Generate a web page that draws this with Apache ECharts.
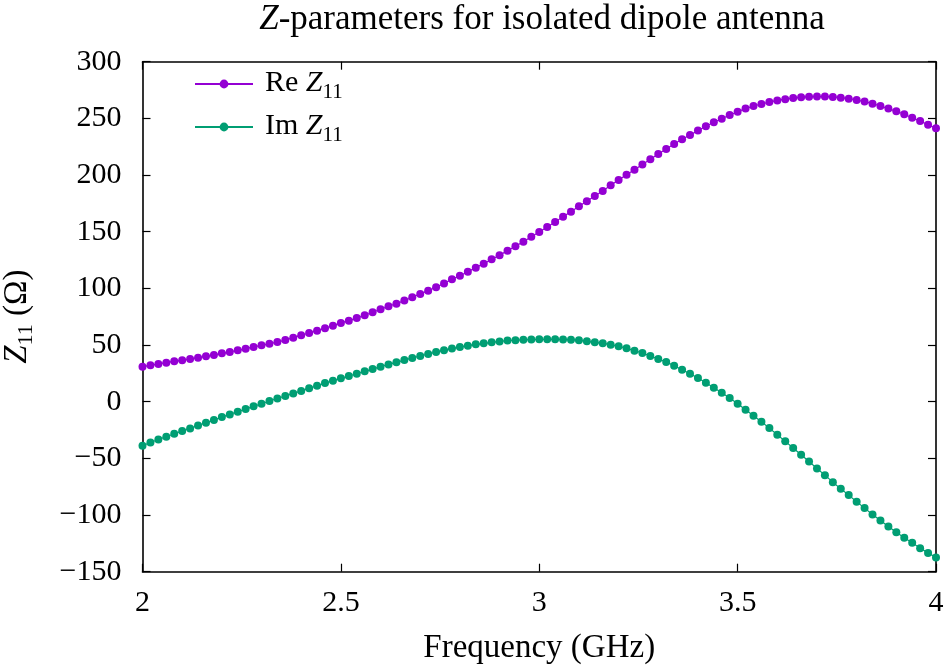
<!DOCTYPE html>
<html>
<head>
<meta charset="utf-8">
<script src="https://cdn.jsdelivr.net/npm/echarts@6/dist/echarts.min.js"></script>
<style>
html,body{margin:0;padding:0;background:#fff;}
#chart{width:945px;height:665px;}
</style>
</head>
<body>
<div id="chart"></div>
<script>
var frequency = [2.00,2.02,2.04,2.06,2.08,2.10,2.12,2.14,2.16,2.18,
2.20,2.22,2.24,2.26,2.28,2.30,2.32,2.34,2.36,2.38,
2.40,2.42,2.44,2.46,2.48,2.50,2.52,2.54,2.56,2.58,
2.60,2.62,2.64,2.66,2.68,2.70,2.72,2.74,2.76,2.78,
2.80,2.82,2.84,2.86,2.88,2.90,2.92,2.94,2.96,2.98,
3.00,3.02,3.04,3.06,3.08,3.10,3.12,3.14,3.16,3.18,
3.20,3.22,3.24,3.26,3.28,3.30,3.32,3.34,3.36,3.38,
3.40,3.42,3.44,3.46,3.48,3.50,3.52,3.54,3.56,3.58,
3.60,3.62,3.64,3.66,3.68,3.70,3.72,3.74,3.76,3.78,
3.80,3.82,3.84,3.86,3.88,3.90,3.92,3.94,3.96,3.98,
4.00];

var reZ11 = [30.9,32.1,33.3,34.4,35.6,36.5,37.7,38.8,40.0,41.2,
42.7,43.9,45.3,46.8,48.3,49.7,51.2,52.6,54.4,56.5,
58.6,60.6,62.7,64.8,67.1,69.5,71.5,73.9,76.2,78.9,
81.5,84.2,86.5,89.2,92.1,95.1,98.0,101.0,104.4,108.0,
111.2,114.7,118.3,121.8,125.6,129.2,133.3,137.1,141.2,145.6,
149.7,154.1,158.6,163.3,167.7,172.4,176.8,181.5,185.9,190.9,
195.6,200.3,204.7,209.4,213.9,218.6,223.0,227.4,231.5,235.3,
239.2,243.0,246.5,249.7,253.0,255.9,258.6,260.9,262.7,264.4,
265.8,266.9,267.9,268.6,269.1,269.3,269.2,268.9,268.3,267.4,
266.2,264.8,263.0,260.9,258.6,256.2,253.6,250.6,247.7,244.4,
241.2];

var imZ11 = [-38.8,-36.0,-33.3,-30.9,-28.3,-25.9,-23.6,-20.9,-18.6,-16.2,
-13.6,-11.2,-8.8,-6.5,-4.1,-1.8,0.6,2.9,5.0,7.3,
9.4,11.8,14.1,16.4,18.5,20.6,22.7,24.7,26.8,28.8,
30.9,32.9,34.7,36.7,38.6,40.3,42.1,43.8,45.5,46.9,
48.3,49.4,50.6,51.5,52.4,53.2,53.9,54.3,54.6,54.8,
55.0,55.0,55.0,54.9,54.7,54.2,53.3,52.4,51.5,50.3,
48.9,47.1,45.0,43.0,40.3,37.7,35.0,31.8,28.2,24.7,
20.9,16.8,12.4,7.9,3.2,-1.8,-7.1,-12.4,-17.7,-23.3,
-29.2,-35.0,-40.9,-46.8,-52.7,-58.9,-64.8,-71.0,-76.9,-82.4,
-88.3,-93.9,-99.5,-104.8,-110.1,-115.1,-120.1,-124.5,-129.2,-133.4,
-137.5];

var xTicks = [2, 2.5, 3, 3.5, 4];
var yTicks = [-150, -100, -50, 0, 50, 100, 150, 200, 250, 300];

var FONT = '"Liberation Serif", "DejaVu Serif", serif';
var FS = 30;
var FS_BIG = 33;

function pairs(xs, ys) {
  var out = [];
  for (var i = 0; i < xs.length; i++) out.push([xs[i], ys[i]]);
  return out;
}

var chart = echarts.init(document.getElementById('chart'), null, {renderer: 'canvas'});

var tickStyle = {show: true, inside: true, length: 8, lineStyle: {color: '#000', width: 1.2}};
var lineStyle = {show: true, onZero: false, lineStyle: {color: '#000', width: 1.6}};

var option = {
  animation: false,
  backgroundColor: '#fff',
  title: {
    text: '{i|Z}{n|-parameters for isolated dipole antenna}',
    left: 537,
    textAlign: 'center',
    top: -3,
    textStyle: {
      fontWeight: 'normal',
      rich: {
        i: {fontFamily: FONT, fontSize: 35, fontStyle: 'italic', fontWeight: 'normal', color: '#000'},
        n: {fontFamily: FONT, fontSize: 35, fontWeight: 'normal', color: '#000'}
      }
    }
  },
  grid: {left: 142.5, right: 9, top: 61.7, bottom: 93.3, containLabel: false, outerBoundsMode: 'none'},
  legend: {
    left: 189,
    top: 63,
    orient: 'vertical',
    itemWidth: 58,
    itemHeight: 11,
    itemGap: 8,
    data: ['Re', 'Im'],
    formatter: function (name) {
      return '{a|' + name + ' }{z|Z}{s|11}';
    },
    textStyle: {
      rich: {
        a: {fontFamily: FONT, fontSize: FS, color: '#000', verticalAlign: 'top', lineHeight: 32, padding: [0, 0, 0, 7]},
        z: {fontFamily: FONT, fontSize: FS, fontStyle: 'italic', color: '#000', verticalAlign: 'top', lineHeight: 32},
        s: {fontFamily: FONT, fontSize: 21, color: '#000', verticalAlign: 'top', lineHeight: 22, padding: [14, 0, 0, 0]}
      }
    }
  },
  xAxis: [{
    type: 'value', min: 2, max: 4, interval: 0.5, position: 'bottom',
    axisLine: lineStyle, axisTick: tickStyle, splitLine: {show: false},
    axisLabel: {fontFamily: FONT, fontSize: FS, color: '#000', margin: 16,
      formatter: function (v) { return String(v); }},
    name: 'Frequency (GHz)', nameLocation: 'middle', nameGap: 60,
    nameTextStyle: {fontFamily: FONT, fontSize: FS_BIG, color: '#000'}
  }, {
    type: 'value', min: 2, max: 4, interval: 0.5, position: 'top',
    axisLine: lineStyle, axisTick: tickStyle, splitLine: {show: false},
    axisLabel: {show: false}
  }],
  yAxis: [{
    type: 'value', min: -150, max: 300, interval: 50, position: 'left',
    axisLine: lineStyle, axisTick: tickStyle, splitLine: {show: false},
    axisLabel: {fontFamily: FONT, fontSize: FS, color: '#000', margin: 21,
      formatter: function (v) { return String(v).replace('-', '\u2212'); }},
    name: '{z|Z}{s|11}{a| (\u03A9)}', nameLocation: 'middle', nameGap: 108, nameRotate: 90,
    nameTextStyle: {
      rich: {
        z: {fontFamily: FONT, fontSize: FS_BIG, fontStyle: 'italic', color: '#000', verticalAlign: 'top', lineHeight: 34},
        s: {fontFamily: FONT, fontSize: 22, color: '#000', verticalAlign: 'top', lineHeight: 22, padding: [15, 0, 0, 0]},
        a: {fontFamily: FONT, fontSize: FS_BIG, color: '#000', verticalAlign: 'top', lineHeight: 34}
      }
    }
  }, {
    type: 'value', min: -150, max: 300, interval: 50, position: 'right',
    axisLine: lineStyle, axisTick: tickStyle, splitLine: {show: false},
    axisLabel: {show: false}
  }],
  series: [{
    name: 'Re', type: 'line', xAxisIndex: 0, yAxisIndex: 0,
    data: pairs(frequency, reZ11),
    symbol: 'circle', symbolSize: 8, showSymbol: true, showAllSymbol: true,
    itemStyle: {color: '#9400D3'},
    lineStyle: {color: '#9400D3', width: 1.2},
    clip: false
  }, {
    name: 'Im', type: 'line', xAxisIndex: 0, yAxisIndex: 0,
    data: pairs(frequency, imZ11),
    symbol: 'circle', symbolSize: 8, showSymbol: true, showAllSymbol: true,
    itemStyle: {color: '#009E73'},
    lineStyle: {color: '#009E73', width: 1.2},
    clip: false
  }]
};

chart.setOption(option);
</script>
</body>
</html>
